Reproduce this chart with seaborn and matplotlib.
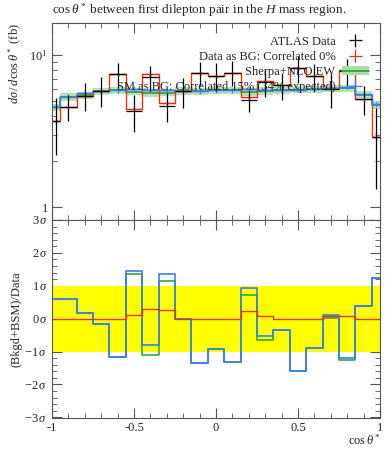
import matplotlib
matplotlib.use("Agg")
import matplotlib.pyplot as plt
import seaborn as sns
from matplotlib.patches import Patch
from matplotlib.ticker import FixedLocator, NullFormatter, MultipleLocator

# bin edges in cos(theta*)
edges = [-1.0, -0.95, -0.85, -0.75, -0.65, -0.55, -0.45, -0.35, -0.25, -0.15, -0.05,
         0.05, 0.15, 0.25, 0.35, 0.45, 0.55, 0.65, 0.75, 0.85, 0.95, 1.0]

# ATLAS data (fb)
data = [3.71, 4.58, 5.41, 5.83, 7.47, 4.30, 7.13, 4.62, 5.80, 7.59, 7.31,
        7.66, 5.05, 6.62, 6.36, 8.17, 7.28, 6.00, 7.85, 5.14, 2.91]
data_err = [1.50, 0.90, 1.15, 1.30, 1.40, 1.20, 1.30, 1.00, 1.30, 1.35, 1.50,
            1.45, 0.85, 1.30, 1.30, 1.60, 1.50, 1.50, 1.50, 1.10, 1.60]

# data + BSM
data_bg = [3.71, 4.58, 5.41, 5.83, 7.47, 4.45, 7.50, 4.86, 5.80, 7.59, 7.31,
           7.66, 5.28, 6.78, 6.36, 8.17, 7.28, 6.10, 7.98, 5.14, 2.91]

# Sherpa+NLO EW
sm = [4.53, 5.30, 5.45, 5.78, 5.85, 5.75, 5.62, 5.65, 5.80, 5.78, 5.85,
      5.85, 5.72, 5.80, 5.88, 5.92, 5.95, 6.00, 6.05, 5.50, 4.70]
sm_err = [0.26, 0.29, 0.30, 0.32, 0.32, 0.32, 0.31, 0.31, 0.32, 0.32, 0.32,
          0.32, 0.31, 0.32, 0.32, 0.33, 0.33, 0.33, 0.33, 0.30, 0.26]

# SM + BSM
sm_bg = [4.58, 5.32, 5.60, 5.80, 5.88, 5.98, 5.92, 5.85, 5.80, 5.80, 5.85,
         5.85, 5.95, 5.92, 5.90, 5.92, 5.95, 6.10, 6.19, 5.52, 4.74]
sm_bg_err = [0.20, 0.22, 0.22, 0.23, 0.23, 0.23, 0.23, 0.23, 0.23, 0.23, 0.23,
             0.23, 0.23, 0.23, 0.23, 0.23, 0.23, 0.24, 0.24, 0.22, 0.19]

# lower panel, in sigma
sig_red = [0, 0, 0, 0, 0, 0.12, 0.28, 0.25, 0, 0, 0,
           0, 0.23, 0.09, 0, 0, 0, 0.08, 0.07, 0, 0]
sig_green = [0.59, 0.59, 0.18, -0.17, -1.16, 1.35, -1.10, 1.16, 0, -1.35, -0.92,
             -1.31, 0.73, -0.64, -0.33, -1.59, -0.89, 0.03, -1.26, 0.39, 1.23]
sig_blue = [0.59, 0.59, 0.18, -0.17, -1.16, 1.44, -0.80, 1.36, 0, -1.35, -0.92,
            -1.31, 0.92, -0.54, -0.33, -1.59, -0.89, 0.12, -1.19, 0.39, 1.23]

RED = "#EE3311"
BLUE = "#3A7BFF"
GREEN = "#2E9E2E"
BAND = "#A8DCA8"

sns.set_theme(style="ticks")
plt.rcParams["font.family"] = ["Liberation Serif", "DejaVu Serif"]
plt.rcParams["mathtext.fontset"] = "custom"
plt.rcParams["mathtext.rm"] = "Liberation Serif"
plt.rcParams["mathtext.it"] = "Liberation Serif:italic"
plt.rcParams["font.size"] = 9
plt.rcParams["axes.edgecolor"] = "#555555"
plt.rcParams["axes.linewidth"] = 0.8

centers = [(a + b) / 2 for a, b in zip(edges[:-1], edges[1:])]
halfw = [(b - a) / 2 for a, b in zip(edges[:-1], edges[1:])]


def ext(v):
    return list(v) + [v[-1]]


fig = plt.figure(figsize=(3.92, 4.5), dpi=100)
ax = fig.add_axes([52 / 392, 1 - 220 / 450, 328 / 392, 197 / 450])
axr = fig.add_axes([52 / 392, 1 - 418 / 450, 328 / 392, 198 / 450], sharex=ax)

# --- top panel
ax.fill_between(edges, [s - e for s, e in zip(ext(sm), ext(sm_err))],
                [s + e for s, e in zip(ext(sm), ext(sm_err))],
                step="post", color=BAND, lw=0, alpha=0.85)
sns.lineplot(x=edges, y=ext(sm), drawstyle="steps-post", color=GREEN, lw=1.2,
             ax=ax, sort=False, estimator=None)
sns.lineplot(x=edges, y=ext(data_bg), drawstyle="steps-post", color=RED, lw=1.0,
             ax=ax, sort=False, estimator=None)
sns.lineplot(x=edges, y=ext(sm_bg), drawstyle="steps-post", color=BLUE, lw=1.0,
             ax=ax, sort=False, estimator=None)
h_red = ax.errorbar(centers, data_bg, xerr=halfw, yerr=[0.2] * len(centers),
                    fmt="none", ecolor=RED, elinewidth=0.9)
h_blue = ax.errorbar(centers, sm_bg, xerr=halfw, yerr=sm_bg_err, fmt="none",
                     ecolor=BLUE, elinewidth=0.9)
h_data = ax.errorbar(centers, data, xerr=halfw, yerr=data_err, fmt="none",
                     ecolor="black", elinewidth=0.9)

ax.set_yscale("log")
ax.set_ylim(0.826, 16.2)
ax.set_xlim(-1, 1)
ax.yaxis.set_major_locator(FixedLocator([1, 10]))
ax.set_yticklabels(["1", r"$10^{1}$"])
ax.yaxis.set_minor_locator(FixedLocator([2, 3, 4, 5, 6, 7, 8, 9]))
ax.yaxis.set_minor_formatter(NullFormatter())
ax.tick_params(labelbottom=False)
ax.set_ylabel(r"$d\sigma\,/\,d\cos\theta^*$ (fb)", loc="top", fontsize=9)
ax.yaxis.set_label_coords(-0.085, 1.0)

h_green = (Patch(facecolor=BAND, edgecolor="none"),
           plt.Line2D([], [], color=GREEN, lw=1.2))
leg = ax.legend([h_data, h_red, h_green, h_blue],
                ["ATLAS Data", "Data as BG: Correlated 0%", "Sherpa+NLO EW",
                 "SM as BG: Correlated 15% (34% expected)"],
                loc="upper right", bbox_to_anchor=(0.965, 0.935), frameon=False,
                markerfirst=False, fontsize=9, handlelength=2.1,
                handletextpad=0.55, labelspacing=0.25, borderpad=0, borderaxespad=0)
leg.set_zorder(5)

fig.text(52 / 392, 1 - 10 / 450,
         r"$\cos\theta^*$ between first dilepton pair in the $H$ mass region.",
         ha="left", va="center", fontsize=9.5)

# --- ratio panel
axr.axhspan(-1, 1, color="#FFFF00", lw=0)
sns.lineplot(x=edges, y=ext(sig_green), drawstyle="steps-post", color="#33AA33",
             lw=1.2, ax=axr, sort=False, estimator=None)
sns.lineplot(x=edges, y=ext(sig_blue), drawstyle="steps-post", color=BLUE,
             lw=1.2, ax=axr, sort=False, estimator=None)
sns.lineplot(x=edges, y=ext(sig_red), drawstyle="steps-post", color=RED,
             lw=1.0, ax=axr, sort=False, estimator=None)
axr.set_ylim(-3.02, 3.0)
axr.set_yticks([-3, -2, -1, 0, 1, 2, 3])
axr.set_yticklabels([rf"${v}\,\sigma$" for v in ["-3", "-2", "-1", "0", "1", "2", "3"]])
axr.yaxis.set_minor_locator(MultipleLocator(0.2))
axr.set_xticks([-1, -0.5, 0, 0.5, 1])
axr.set_xticklabels(["-1", "-0.5", "0", "0.5", "1"])
axr.xaxis.set_minor_locator(MultipleLocator(0.1))
axr.set_ylabel("(Bkgd+BSM)/Data", fontsize=9)
axr.yaxis.set_label_coords(-0.09, 0.5)
axr.set_xlabel(r"$\cos\theta^*$", loc="right", fontsize=9)
axr.xaxis.set_label_coords(1.0, -0.075)
axr.xaxis.label.set_va("top")

for a in (ax, axr):
    a.tick_params(which="both", direction="in", top=True, right=True,
                  color="#555555", labelsize=9, pad=3)
    a.tick_params(which="major", length=7, width=0.8)
    a.tick_params(which="minor", length=3.5, width=0.6)

fig.savefig("out.png", dpi=100)
